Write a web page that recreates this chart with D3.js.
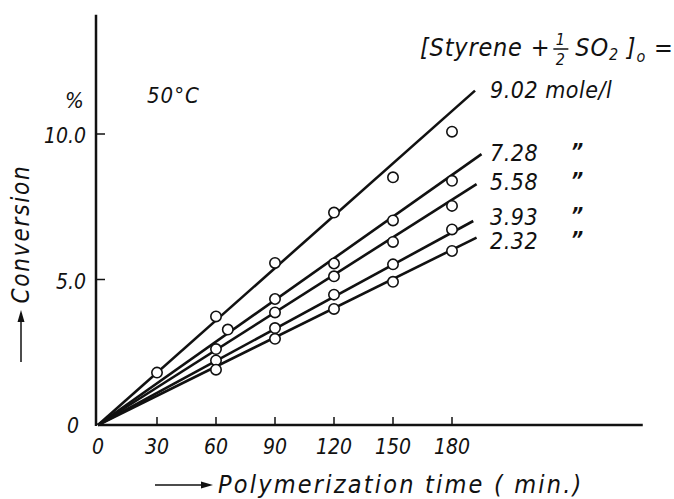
<!DOCTYPE html>
<html>
<head>
<meta charset="utf-8">
<script src="https://cdn.jsdelivr.net/npm/d3@7"></script>
<style>
  body { margin: 0; background: #fff; }
  svg text { font-family: "DejaVu Sans Condensed", "Liberation Sans Narrow", "DejaVu Sans", sans-serif; font-style: italic; fill: #111; }
</style>
</head>
<body>
<svg id="chart" width="674" height="499"></svg>
<script>
// concentrations [Styrene + 1/2 SO2]o, mole/l
const concentrations = ["9.02", "7.28", "5.58", "3.93", "2.32"];

// measured points: [time (min), conversion (%)]
const pts902 = [[30, 1.80], [60, 3.73], [90, 5.57], [120, 7.30], [150, 8.51], [180, 10.08]];
const pts728 = [[66, 3.28], [90, 4.33], [120, 5.55], [150, 7.03], [180, 8.39]];
const pts558 = [[60, 2.61], [90, 3.87], [120, 5.11], [150, 6.29], [180, 7.53]];
const pts393 = [[60, 2.22], [90, 3.33], [120, 4.48], [150, 5.52], [180, 6.72]];
const pts232 = [[60, 1.90], [90, 2.96], [120, 3.99], [150, 4.92], [180, 5.98]];
const allPoints = [pts902, pts728, pts558, pts393, pts232];

// drawn straight lines from origin to end point
const lineEnds = [[191.7, 11.49], [195, 9.31], [192.5, 8.28], [190.8, 7.01], [192.5, 6.44]];

const xTicks = [0, 30, 60, 90, 120, 150, 180];
const yTicks = [0, 5, 10];
const yTickLabels = ["0", "5.0", "10.0"];

const svg = d3.select("#chart");

const x = d3.scaleLinear().domain([0, 180]).range([98, 452]);
const y = d3.scaleLinear().domain([0, 10]).range([425, 134]);

const ink = "#111";

// axes
svg.append("line")
  .attr("x1", x(0)).attr("x2", x(277))
  .attr("y1", y(0)).attr("y2", y(0))
  .attr("stroke", ink).attr("stroke-width", 2.5);
svg.append("line")
  .attr("x1", x(0) - 2).attr("x2", x(0) - 2)
  .attr("y1", y(0) + 1).attr("y2", y(14.1))
  .attr("stroke", ink).attr("stroke-width", 2.5);

// x ticks
svg.selectAll(".xt").data(xTicks.filter(d => d > 0)).enter().append("line")
  .attr("x1", d => x(d)).attr("x2", d => x(d))
  .attr("y1", y(0)).attr("y2", y(0) - 8)
  .attr("stroke", ink).attr("stroke-width", 1.5);
svg.selectAll(".xl").data(xTicks).enter().append("text")
  .attr("x", d => x(d)).attr("y", 454)
  .attr("text-anchor", "middle")
  .style("font-size", "21px")
  .text(d => d);

// y ticks
svg.selectAll(".yt").data(yTicks.filter(d => d > 0)).enter().append("line")
  .attr("x1", x(0) - 2).attr("x2", x(0) + 7)
  .attr("y1", d => y(d)).attr("y2", d => y(d))
  .attr("stroke", ink).attr("stroke-width", 1.5);
svg.selectAll(".yl").data(yTicks).enter().append("text")
  .attr("x", (d, i) => i === 0 ? 79 : 86)
  .attr("y", d => y(d) + (d === 0 ? 8 : 9))
  .attr("text-anchor", "end")
  .style("font-size", "21px")
  .text((d, i) => yTickLabels[i]);

svg.append("text").attr("x", 65).attr("y", 108).style("font-size", "22px").text("%");
svg.append("text").attr("x", 147).attr("y", 103).style("font-size", "22px").style("letter-spacing", "1px").text("50°C");

// fitted lines
svg.selectAll(".fit").data(lineEnds).enter().append("line")
  .attr("x1", x(0)).attr("y1", y(0))
  .attr("x2", d => x(d[0])).attr("y2", d => y(d[1]))
  .attr("stroke", ink).attr("stroke-width", 2.6);

// data circles
allPoints.forEach(pts => {
  svg.selectAll(null).data(pts).enter().append("circle")
    .attr("cx", d => x(d[0])).attr("cy", d => y(d[1]))
    .attr("r", 5.2)
    .attr("fill", "#fff").attr("stroke", ink).attr("stroke-width", 1.6);
});

// series labels
const labelY = [98, 161, 190, 225, 249];
concentrations.forEach((c, i) => {
  svg.append("text").attr("x", 490).attr("y", labelY[i])
    .style("font-size", "23px").style("letter-spacing", "0.5px")
    .text(i === 0 ? c + " mole/l" : c);
  if (i > 0) {
    svg.append("text").attr("x", 571).attr("y", labelY[i] - 2)
      .style("font-size", "21px").style("font-weight", "bold")
      .text("\u201D");
  }
});

// header [Styrene + 1/2 SO2]o =
const hy = 56;
let hx = 420;
const hSize = "25px";
const t1 = svg.append("text").attr("x", hx).attr("y", hy).style("font-size", hSize)
  .style("letter-spacing", "0.8px").text("[Styrene +");
hx += t1.node().getComputedTextLength() + 3;
svg.append("text").attr("x", hx + 7).attr("y", hy - 11).attr("text-anchor", "middle").style("font-size", "16px").text("1");
svg.append("line").attr("x1", hx).attr("x2", hx + 15).attr("y1", hy - 7).attr("y2", hy - 7)
  .attr("stroke", ink).attr("stroke-width", 1.5);
svg.append("text").attr("x", hx + 7).attr("y", hy + 9).attr("text-anchor", "middle").style("font-size", "16px").text("2");
hx += 22;
const t2 = svg.append("text").attr("x", hx).attr("y", hy).style("font-size", hSize).style("letter-spacing", "0.8px");
t2.append("tspan").text("SO");
t2.append("tspan").attr("dy", 4).style("font-size", "16px").text("2");
t2.append("tspan").attr("dy", -4).text(" ]");
t2.append("tspan").attr("dy", 6).style("font-size", "16px").text("o");
t2.append("tspan").attr("dy", -6).text(" =");

// axis titles
svg.append("text")
  .attr("transform", "translate(29,234) rotate(-90)")
  .attr("text-anchor", "middle")
  .style("font-size", "24px").style("letter-spacing", "1.8px")
  .text("Conversion");
svg.append("line").attr("x1", 21).attr("x2", 21).attr("y1", 362).attr("y2", 318)
  .attr("stroke", ink).attr("stroke-width", 1.5);
svg.append("path").attr("d", "M21,310 L17.5,322 L24.5,322 Z").attr("fill", ink);

svg.append("line").attr("x1", 155).attr("x2", 204).attr("y1", 485).attr("y2", 485)
  .attr("stroke", ink).attr("stroke-width", 1.5);
svg.append("path").attr("d", "M213,485 L201,481.5 L201,488.5 Z").attr("fill", ink);
svg.append("text").attr("x", 218).attr("y", 493)
  .style("font-size", "25px").style("letter-spacing", "2.2px")
  .text("Polymerization time ( min.)");
</script>
</body>
</html>
